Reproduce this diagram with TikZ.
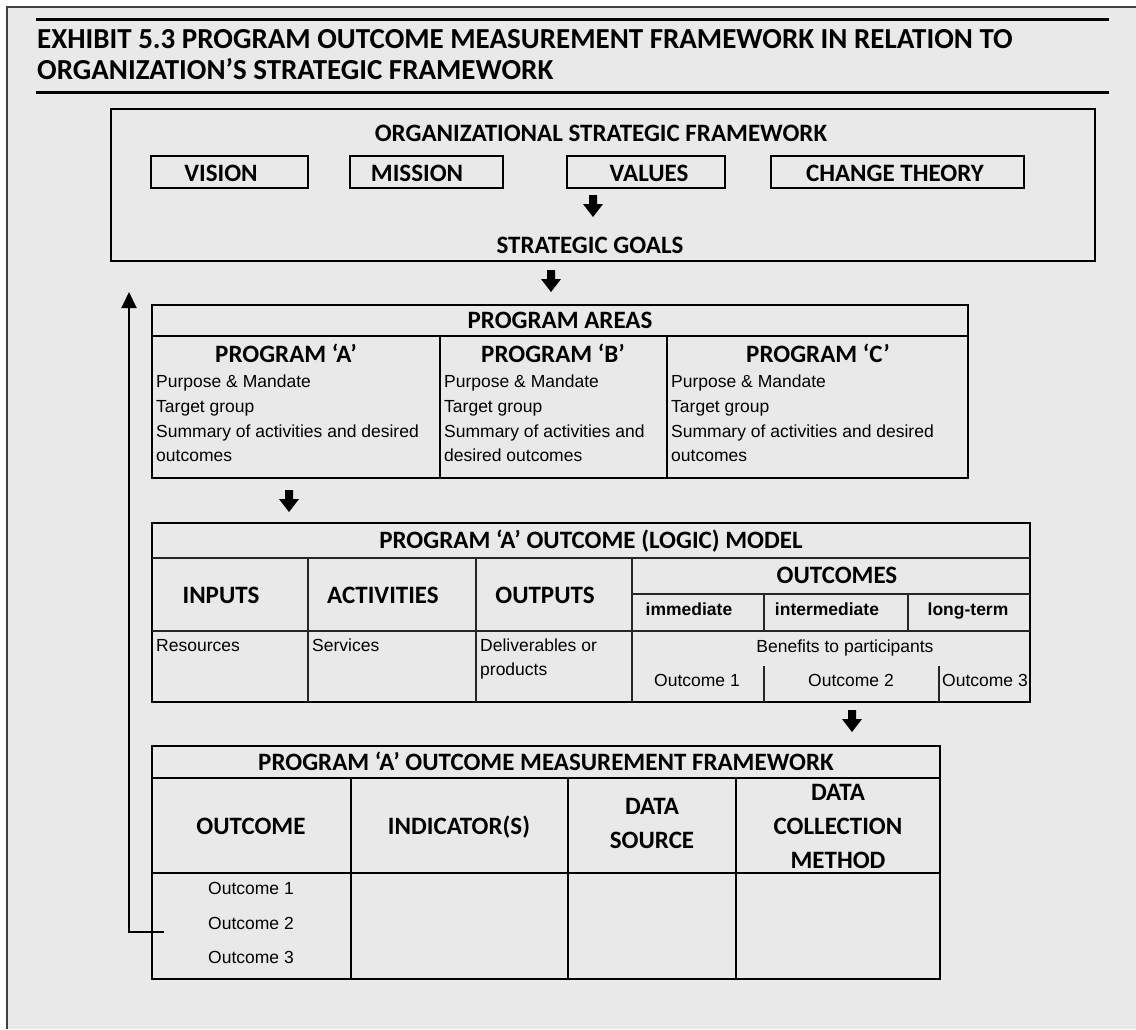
\documentclass[tikz,border=0pt]{standalone}
\usepackage{fontspec}
\setmainfont{Liberation Sans}
\newfontfamily\hdrfont{Carlito}
\usetikzlibrary{arrows.meta}
\definecolor{bg}{RGB}{233,233,233}
\tikzset{
  hdr/.style={font=\hdrfont\bfseries\fontsize{25}{30}\selectfont, inner sep=0pt, anchor=base},
  ttl/.style={font=\hdrfont\bfseries\fontsize{29}{34}\selectfont, inner sep=0pt, anchor=base west},
  body/.style={font=\fontsize{17.5}{25}\selectfont, inner sep=0pt, anchor=base west},
  bodyc/.style={font=\fontsize{17.5}{25}\selectfont, inner sep=0pt, anchor=base},
  bodyb/.style={font=\bfseries\fontsize{17.5}{21}\selectfont, inner sep=0pt, anchor=base},
  tbl/.style={line width=2.5pt, black},
  inner/.style={line width=2pt, black!85},
  frame/.style={line width=2pt, black!75},
  rule/.style={line width=3pt, black},
  bigdown/.pic={\fill[black] (-4,0) -- (4,0) -- (4,9) -- (10,9) -- (0,22) -- (-10,9) -- (-4,9) -- cycle;},
}
\begin{document}
\begin{tikzpicture}[x=1pt,y=-1pt]
\useasboundingbox (0,0) rectangle (1136,1029);
% outer frame
\fill[bg] (7,7) rectangle (1136,1029);
\draw[frame] (1136,7) -- (7,7) -- (7,1029);
% title
\draw[rule] (36,19) -- (1109,19);
\node[ttl] (title1) at (37,48) {EXHIBIT 5.3 PROGRAM OUTCOME MEASUREMENT FRAMEWORK IN RELATION TO};
\node[ttl] (title2) at (37,79) {ORGANIZATION’S STRATEGIC FRAMEWORK};
\draw[rule] (36,92) -- (1109,92);

% organizational strategic framework
\draw[tbl] (111,109) rectangle (1095,261);
\node[hdr] (osf) at (601,141) {ORGANIZATIONAL STRATEGIC FRAMEWORK};
\draw[tbl] (151,156) rectangle (308,188);
\draw[tbl] (350,156) rectangle (503,188);
\draw[tbl] (567,156) rectangle (725,188);
\draw[tbl] (771,156) rectangle (1024,188);
\node[hdr] (vision) at (221,181) {VISION};
\node[hdr] (mission) at (417,181) {MISSION};
\node[hdr] (values) at (649,181) {VALUES};
\node[hdr] (change) at (895,181) {CHANGE THEORY};
\pic at (593,195) {bigdown};
\node[hdr] (goals) at (590,253) {STRATEGIC GOALS};
\pic at (551,270) {bigdown};

% program areas
\draw[tbl] (152,305) rectangle (968,478);
\draw[tbl] (152,336) -- (968,336);
\draw[tbl] (440,336) -- (440,478);
\draw[tbl] (667,336) -- (667,478);
\node[hdr] (pareas) at (560,328) {PROGRAM AREAS};
\node[hdr] (pA) at (286,362) {PROGRAM ‘A’};
\node[hdr] (pB) at (553,362) {PROGRAM ‘B’};
\node[hdr] (pC) at (818,362) {PROGRAM ‘C’};
\node[body] (a1) at (156,387) {Purpose \& Mandate};
\node[body] (a2) at (156,412) {Target group};
\node[body] (a3) at (156,437) {Summary of activities and desired};
\node[body] (a4) at (156,461) {outcomes};
\node[body] (b1) at (444,387) {Purpose \& Mandate};
\node[body] (b2) at (444,412) {Target group};
\node[body] (b3) at (444,437) {Summary of activities and};
\node[body] (b4) at (444,461) {desired outcomes};
\node[body] (c1) at (671,387) {Purpose \& Mandate};
\node[body] (c2) at (671,412) {Target group};
\node[body] (c3) at (671,437) {Summary of activities and desired};
\node[body] (c4) at (671,461) {outcomes};
\pic at (289,490) {bigdown};

% logic model
\draw[tbl] (152,523) rectangle (1030,702);
\draw[inner] (152,558) -- (1030,558);
\draw[inner] (152,631) -- (1030,631);
\draw[inner] (308,558) -- (308,702);
\draw[inner] (476,558) -- (476,702);
\draw[inner] (632,558) -- (632,702);
\draw[inner] (632,594) -- (1030,594);
\draw[inner] (764,594) -- (764,631);
\draw[inner] (908,594) -- (908,631);
\draw[inner] (764,666) -- (764,702);
\draw[inner] (939,666) -- (939,702);
\node[hdr] (lm) at (591,548) {PROGRAM ‘A’ OUTCOME (LOGIC) MODEL};
\node[hdr] (inputs) at (221,603) {INPUTS};
\node[hdr] (activities) at (383,603) {ACTIVITIES};
\node[hdr] (outputs) at (545,603) {OUTPUTS};
\node[hdr] (outcomes) at (837,583) {OUTCOMES};
\node[bodyb] (imm) at (689,615) {immediate};
\node[bodyb] (intm) at (827,615) {intermediate};
\node[bodyb] (lt) at (968,615) {long-term};
\node[body] (res) at (156,651) {Resources};
\node[body] (serv) at (312,651) {Services};
\node[body] (del1) at (480,651) {Deliverables or};
\node[body] (del2) at (480,675) {products};
\node[bodyc] (ben) at (845,652) {Benefits to participants};
\node[bodyc] (o1) at (697,686) {Outcome 1};
\node[bodyc] (o2) at (851,686) {Outcome 2};
\node[bodyc] (o3) at (985,686) {Outcome 3};
\pic at (852,710) {bigdown};

% measurement framework
\draw[tbl] (152,746) rectangle (940,979);
\draw[tbl] (152,778) -- (940,778);
\draw[tbl] (152,873) -- (940,873);
\draw[tbl] (351,778) -- (351,979);
\draw[tbl] (568,778) -- (568,979);
\draw[tbl] (736,778) -- (736,979);
\node[hdr] (mf) at (546,770) {PROGRAM ‘A’ OUTCOME MEASUREMENT FRAMEWORK};
\node[hdr] (hout) at (251,834) {OUTCOME};
\node[hdr] (hind) at (459,834) {INDICATOR(S)};
\node[hdr] (hds1) at (652,814) {DATA};
\node[hdr] (hds2) at (652,848) {SOURCE};
\node[hdr] (hdc1) at (838,800) {DATA};
\node[hdr] (hdc2) at (838,834) {COLLECTION};
\node[hdr] (hdc3) at (838,868) {METHOD};
\node[bodyc] (mo1) at (251,894) {Outcome 1};
\node[bodyc] (mo2) at (251,929) {Outcome 2};
\node[bodyc] (mo3) at (251,963) {Outcome 3};

% feedback arrow
\coordinate (fbs) at (164,932);
\coordinate (fbc) at (129,932);
\coordinate (fbe) at (129,292);
\draw[line width=2pt, -{Triangle[width=15pt,length=16pt]}] (fbs) -- (fbc) -- (fbe);
\end{tikzpicture}
\end{document}
